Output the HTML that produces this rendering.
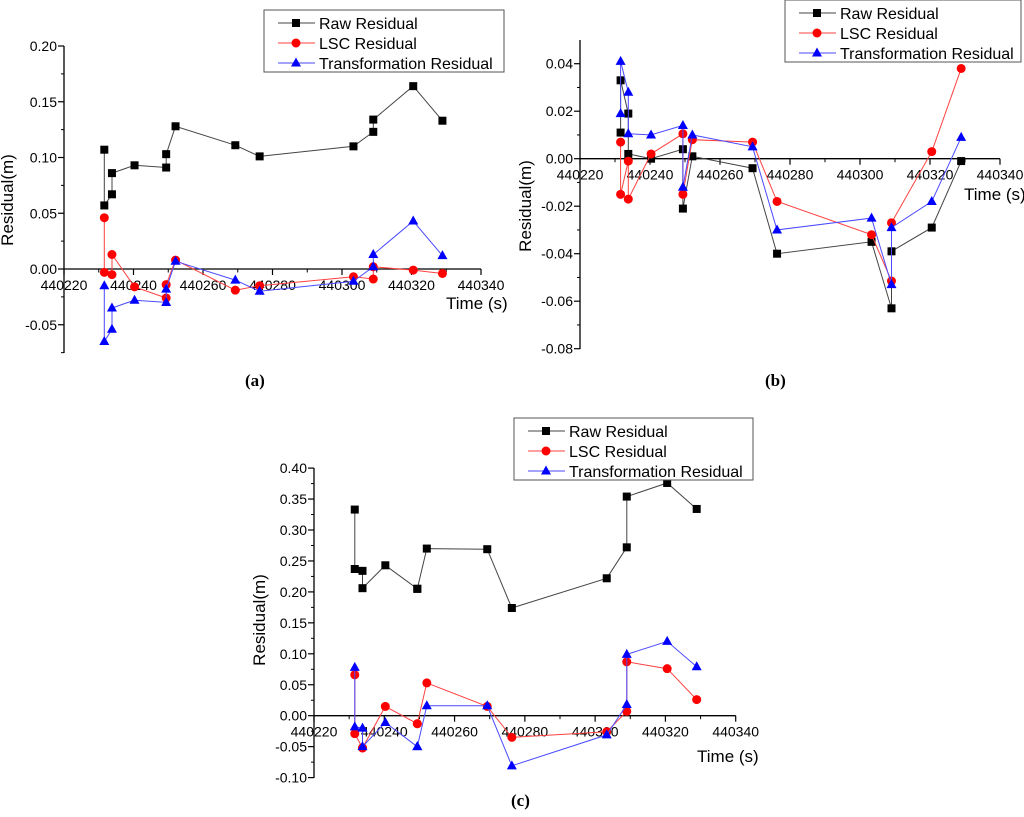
<!DOCTYPE html>
<html><head><meta charset="utf-8"><style>
html,body{margin:0;padding:0;background:#fff;}
svg{display:block;font-family:"Liberation Sans",sans-serif;}
.cap{font-family:"Liberation Serif",serif;font-weight:bold;font-size:17px;}
</style></head><body>
<svg id="fig" width="1024" height="817" viewBox="0 0 1024 817"></svg>
<script>
// Shared time stamps (s)
const times = [440231.6,440231.6,440233.8,440233.8,440240.3,440249.4,440249.4,440252.1,440269.3,440276.3,440303.3,440309,440309,440320.5,440328.9];
// Panel (a)
const rawA = [0.107,0.057,0.067,0.086,0.093,0.091,0.103,0.128,0.111,0.101,0.110,0.123,0.134,0.164,0.133];
const lscA = [0.046,-0.003,-0.005,0.013,-0.016,-0.026,-0.014,0.008,-0.019,-0.015,-0.007,-0.009,0.002,-0.001,-0.004];
const trA  = [-0.015,-0.065,-0.054,-0.035,-0.028,-0.030,-0.018,0.007,-0.010,-0.020,-0.011,0.002,0.013,0.043,0.012];
// Panel (b)
const rawB = [0.011,0.033,0.019,0.002,0.000,0.004,-0.021,0.001,-0.004,-0.040,-0.035,-0.063,-0.039,-0.029,-0.001];
const lscB = [0.007,-0.015,-0.001,-0.017,0.002,0.0105,-0.015,0.008,0.007,-0.018,-0.032,-0.0515,-0.027,0.003,0.038];
const trB  = [0.019,0.041,0.028,0.0105,0.010,0.014,-0.012,0.010,0.005,-0.030,-0.025,-0.053,-0.029,-0.018,0.009];
// Panel (c)
const rawC = [0.333,0.237,0.234,0.206,0.243,0.205,0.205,0.270,0.269,0.174,0.222,0.272,0.354,0.376,0.334];
const lscC = [0.066,-0.029,-0.052,-0.052,0.015,-0.013,-0.013,0.053,0.015,-0.035,-0.026,0.007,0.087,0.076,0.026];
const trC  = [0.078,-0.018,-0.020,-0.050,-0.011,-0.050,-0.050,0.016,0.016,-0.081,-0.031,0.018,0.099,0.120,0.079];
// Tick labels
const xTicks = [440220,440240,440260,440280,440300,440320,440340];
const yTicksA = ["0.20","0.15","0.10","0.05","0.00","-0.05"];
const yTicksB = ["0.04","0.02","0.00","-0.02","-0.04","-0.06","-0.08"];
const yTicksC = ["0.40","0.35","0.30","0.25","0.20","0.15","0.10","0.05","0.00","-0.05","-0.10"];
const seriesNames = ["Raw Residual","LSC Residual","Transformation Residual"];

const NS="http://www.w3.org/2000/svg";
const svg=document.getElementById('fig');
function mk(tag,attrs,parent){const e=document.createElementNS(NS,tag);for(const k in attrs)e.setAttribute(k,attrs[k]);(parent||svg).appendChild(e);return e;}

const panels=[
 {id:'a',x0:64,x1:481,y0:269,yPer:1115,yTop:46,yBot:353,ticks:yTicksA,step:0.05,data:[rawA,lscA,trA],lbx:-1,lby:200,
  leg:[264,10,240,62],time:[446,309],cap:[245,386]},
 {id:'b',x0:580,x1:1000,y0:158.7,yPer:2375,yTop:40,yBot:349,ticks:yTicksB,step:0.02,data:[rawB,lscB,trB],lbx:517,lby:206,
  leg:[785,0,236,62],time:[964,200],cap:[765,386]},
 {id:'c',x0:314,x1:735.7,y0:715.7,yPer:619,yTop:468,yBot:778,ticks:yTicksC,step:0.05,data:[rawC,lscC,trC],lbx:251,lby:620,
  leg:[514,418,239,62],time:[697,762],cap:[511,806]}
];
const colors=['#000','#ff0000','#0000ff'];
const lineColors=['#444','#ff4040','#4a4aff'];

panels.forEach(p=>{
  const g=mk('g',{});
  
  
  const sx=t=>p.x0+(t-440220)*(p.x1-p.x0)/120;
  const sy=v=>p.y0-v*p.yPer;
  const ya=mk('line',{x1:p.x0,y1:p.yTop,x2:p.x0,y2:p.yBot,stroke:'#000','stroke-width':1.3},g);
  
  
  p.ticks.forEach((lab,i)=>{
    const v=parseFloat(lab);const y=sy(v);
    mk('line',{x1:p.x0-6,y1:y,x2:p.x0,y2:y,stroke:'#000','stroke-width':1.2},g);
    const ym=sy(v-p.step/2);
    if(ym<=p.yBot+1) mk('line',{x1:p.x0-3,y1:ym,x2:p.x0,y2:ym,stroke:'#000','stroke-width':1},g);
    const t=mk('text',{x:p.x0-7,y:y+5,'text-anchor':'end','font-size':14},g);
    t.textContent=lab;
    
    
  });
  const yl=mk('text',{x:p.lbx+14,y:p.lby,'font-size':17,'text-anchor':'middle',transform:`rotate(-90 ${p.lbx+14} ${p.lby})`},g);
  yl.textContent='Residual(m)';
  
  
  const xa=mk('line',{x1:p.x0,y1:p.y0,x2:p.x1,y2:p.y0,stroke:'#000','stroke-width':1.3},g);
  
  
  xTicks.forEach((tv,i)=>{
    const x=sx(tv);
    mk('line',{x1:x,y1:p.y0,x2:x,y2:p.y0+6,stroke:'#000','stroke-width':1.2},g);
    if(i<xTicks.length-1){const xm=sx(tv+10);mk('line',{x1:xm,y1:p.y0,x2:xm,y2:p.y0+3.5,stroke:'#000','stroke-width':1},g);}
    const t=mk('text',{x:x,y:p.y0+21,'text-anchor':'middle','font-size':14},g);
    t.textContent=tv;
    
    
  });
  const tl=mk('text',{x:p.time[0],y:p.time[1],'font-size':17},g);
  tl.textContent='Time (s)';
  
  
  p.data.forEach((vals,si)=>{
    const pts=vals.map((v,i)=>sx(times[i]).toFixed(1)+','+sy(v).toFixed(1)).join(' ');
    const pl=mk('polyline',{points:pts,fill:'none',stroke:lineColors[si],'stroke-width':1},g);
    
    
    vals.forEach((v,i)=>{
      const x=sx(times[i]),y=sy(v);let m;
      if(si===0) m=mk('rect',{x:x-4,y:y-4,width:8,height:8,fill:colors[0]},g);
      else if(si===1) m=mk('circle',{cx:x,cy:y,r:4.5,fill:colors[1]},g);
      else m=mk('polygon',{points:`${x},${y-5.5} ${x-5},${y+3.5} ${x+5},${y+3.5}`,fill:colors[2]},g);
      
      
    });
  });
  const [lx,ly,lw,lh]=p.leg;
  const lg=mk('g',{},g);
  
  
  mk('rect',{x:lx,y:ly,width:lw,height:lh,fill:'#fff',stroke:'#555','stroke-width':1},lg);
  seriesNames.forEach((n,si)=>{
    const y=ly+13+si*20;
    mk('line',{x1:lx+14,y1:y,x2:lx+51,y2:y,stroke:lineColors[si],'stroke-width':1},lg);
    const cx=lx+32;
    if(si===0) mk('rect',{x:cx-4,y:y-4,width:8,height:8,fill:colors[0]},lg);
    else if(si===1) mk('circle',{cx:cx,cy:y,r:4.5,fill:colors[1]},lg);
    else mk('polygon',{points:`${cx},${y-5.5} ${cx-5},${y+3.5} ${cx+5},${y+3.5}`,fill:colors[2]},lg);
    const t=mk('text',{x:lx+55,y:y+6,'font-size':16},lg);
    t.textContent=n;
    
    
  });
  const c=mk('text',{x:p.cap[0],y:p.cap[1],class:'cap'},g);
  c.textContent='('+p.id+')';
  
  
});
</script>
</body></html>
